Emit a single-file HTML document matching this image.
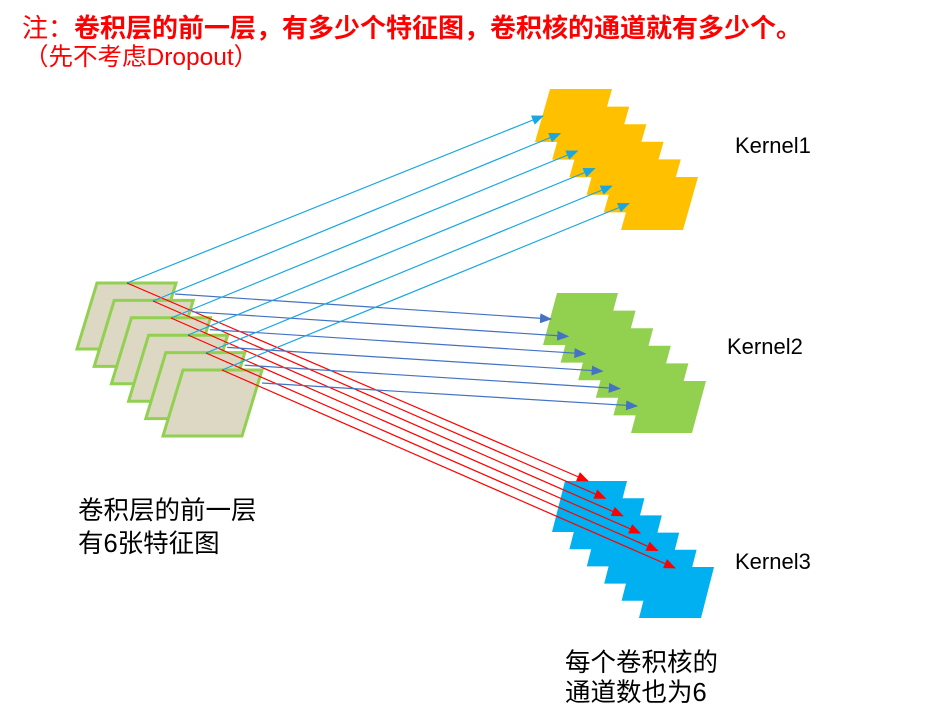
<!DOCTYPE html>
<html><head><meta charset="utf-8"><style>
html,body{margin:0;padding:0;background:#fff;width:942px;height:720px;overflow:hidden}
svg{display:block}
text{font-family:"Liberation Sans","Noto Sans CJK SC",sans-serif}
</style></head><body>
<svg width="942" height="720" viewBox="0 0 942 720" xmlns="http://www.w3.org/2000/svg">
<defs>
<marker id="ab" markerWidth="12" markerHeight="10" refX="11" refY="5" orient="auto" markerUnits="userSpaceOnUse" viewBox="0 0 12 10"><path d="M0,0 L12,5 L0,10 z" fill="#1AA7E0"/></marker>
<marker id="ad" markerWidth="12" markerHeight="10" refX="11" refY="5" orient="auto" markerUnits="userSpaceOnUse" viewBox="0 0 12 10"><path d="M0,0 L12,5 L0,10 z" fill="#4472C4"/></marker>
<marker id="ar" markerWidth="12" markerHeight="10" refX="11" refY="5" orient="auto" markerUnits="userSpaceOnUse" viewBox="0 0 12 10"><path d="M0,0 L12,5 L0,10 z" fill="#FF0000"/></marker>
</defs>
<text x="22" y="37" font-size="26" fill="#FF0000">注：<tspan font-weight="bold">卷积层的前一层，有多少个特征图，卷积核的通道就有多少个。</tspan></text>
<text x="24" y="65" font-size="24.5" fill="#FF0000">（先不考虑Dropout）</text>

<g id="kernels"></g>
<g id="left"></g>
<g id="lines"></g>

<text x="735" y="153" font-size="22" fill="#000">Kernel1</text>
<text x="727" y="354" font-size="22" fill="#000">Kernel2</text>
<text x="735" y="569" font-size="22" fill="#000">Kernel3</text>
<text x="78" y="519" font-size="25.5" fill="#000">卷积层的前一层</text>
<text x="78" y="552" font-size="25.5" fill="#000">有6张特征图</text>
<text x="565" y="671" font-size="25.5" fill="#000">每个卷积核的</text>
<text x="565" y="701" font-size="25.5" fill="#000">通道数也为6</text>
</svg>
<script>
var NS="http://www.w3.org/2000/svg";
function el(p,t,a){var e=document.createElementNS(NS,t);for(var k in a)e.setAttribute(k,a[k]);p.appendChild(e);return e;}
var K=document.getElementById('kernels'),L=document.getElementById('left'),G=document.getElementById('lines');
function stack(x,y,w,h,sk,dx,dy,fill){for(var i=0;i<6;i++){var X=x+dx*i,Y=y+dy*i;
el(K,'polygon',{points:(X)+','+Y+' '+(X+w)+','+Y+' '+(X+w-sk)+','+(Y+h)+' '+(X-sk)+','+(Y+h),fill:fill});}}
stack(550,89,62,53,15,17.2,17.6,'#FFC000');
stack(557,293,61,52,14,17.6,17.6,'#92D050');
stack(565,481,62,51,13,17.4,17.2,'#00B0F0');
for(var i=0;i<6;i++){var X=97+17.2*i,Y=283+17.4*i;
el(L,'polygon',{points:X+','+Y+' '+(X+79)+','+Y+' '+(X+59)+','+(Y+66)+' '+(X-20)+','+(Y+66),fill:'#DDD8C4',stroke:'#92D050','stroke-width':3,'stroke-linejoin':'miter'});}
var rs=[[127,283],[153,301],[171,318],[188,335],[206,353],[222,370]];
for(var i=0;i<6;i++){var s=rs[i];
el(G,'line',{x1:s[0],y1:s[1],x2:543+17.2*i,y2:116+17.5*i,stroke:'#1AA7E0','stroke-width':1.2,'marker-end':'url(#ab)'});
el(G,'line',{x1:175+17.4*i,y1:294+17.8*i,x2:551+17.2*i,y2:319+17.4*i,stroke:'#4472C4','stroke-width':1.2,'marker-end':'url(#ad)'});
el(G,'line',{x1:s[0],y1:s[1],x2:588+17.4*i,y2:481+17.4*i,stroke:'#FF0000','stroke-width':1.2,'marker-end':'url(#ar)'});}
</script>
</body></html>
